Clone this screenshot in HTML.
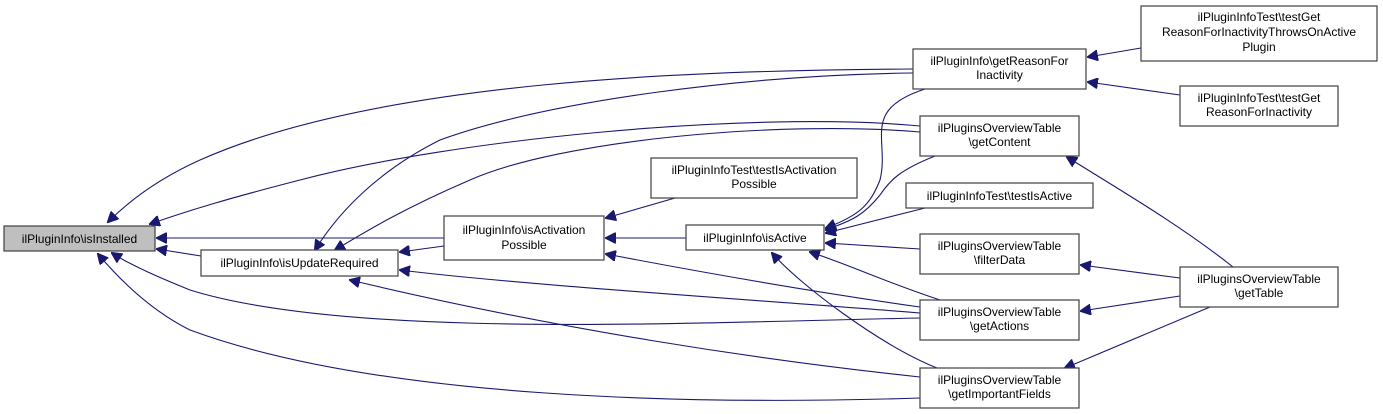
<!DOCTYPE html>
<html><head><meta charset="utf-8"><style>
html,body{margin:0;padding:0;background:#fff;}
svg{display:block;}
text{font-family:"Liberation Sans",Arial,sans-serif;font-size:12px;fill:#000;text-anchor:middle;}
.n{fill:#fff;stroke:#404040;stroke-width:1.2;}
.e{fill:none;stroke:#191970;stroke-width:1.1;}
</style></head><body>
<svg width="1383" height="414" viewBox="0 0 1383 414" xmlns="http://www.w3.org/2000/svg">
<defs><marker id="a" viewBox="0 0 10 10" refX="9" refY="5" markerWidth="11" markerHeight="11" markerUnits="userSpaceOnUse" orient="auto"><path d="M0,0 L10,5 L0,10 z" fill="#191970" stroke="#191970"/></marker></defs>
<g class="e" marker-end="url(#a)">
<path d="M913,69 C700,70 380,80 200,160 C160,178 130,200 108,222"/>
<path d="M920,126 C750,110 450,140 300,180 C230,198 190,210 150,224"/>
<path d="M444,238 L157,238"/>
<path d="M201,256 L157,249"/>
<path d="M920,318 C700,322 350,340 190,290 C160,278 130,265 112,253"/>
<path d="M920,398 C700,405 380,400 190,330 C150,310 120,280 98,254"/>
<path d="M913,73 C750,75 550,100 440,140 C380,170 340,210 315,250"/>
<path d="M920,132 C780,120 560,140 470,180 C400,210 360,235 335,250"/>
<path d="M444,246 L400,252"/>
<path d="M920,313 C760,300 520,285 400,270"/>
<path d="M920,377 C760,360 560,330 350,280"/>
<path d="M675,198 L606,218"/>
<path d="M686,238 L606,238"/>
<path d="M920,307 C800,290 700,272 606,254"/>
<path d="M925,89 C860,110 890,140 880,180 C870,205 860,215 826,228"/>
<path d="M935,156 C900,170 890,180 880,195 C860,220 845,222 826,230"/>
<path d="M925,208 L826,233"/>
<path d="M920,249 L826,243"/>
<path d="M940,300 C880,280 850,265 810,252"/>
<path d="M937,368 C880,345 800,285 772,253"/>
<path d="M1141,48 L1088,57"/>
<path d="M1180,95 L1088,82"/>
<path d="M1233,267 C1180,225 1120,190 1067,157"/>
<path d="M1180,278 L1081,265"/>
<path d="M1180,296 L1081,311"/>
<path d="M1210,307 L1065,368"/>
</g>
<rect class="n" x="4" y="226" width="151" height="25" style="fill:#bfbfbf"/>
<text x="79.5" y="243">ilPluginInfo\isInstalled</text>
<rect class="n" x="201" y="250" width="197" height="26"/>
<text x="299.5" y="267">ilPluginInfo\isUpdateRequired</text>
<rect class="n" x="444" y="216" width="160" height="44"/>
<text x="524" y="234">ilPluginInfo\isActivation</text>
<text x="524" y="249">Possible</text>
<rect class="n" x="651" y="158" width="206" height="40"/>
<text x="754" y="174">ilPluginInfoTest\testIsActivation</text>
<text x="754" y="188">Possible</text>
<rect class="n" x="686" y="225" width="138" height="25"/>
<text x="755" y="242">ilPluginInfo\isActive</text>
<rect class="n" x="913" y="49" width="173" height="40"/>
<text x="999.5" y="65">ilPluginInfo\getReasonFor</text>
<text x="999.5" y="79">Inactivity</text>
<rect class="n" x="920" y="116" width="159" height="40"/>
<text x="999.5" y="132">ilPluginsOverviewTable</text>
<text x="999.5" y="146">\getContent</text>
<rect class="n" x="906" y="183" width="187" height="25"/>
<text x="999.5" y="200">ilPluginInfoTest\testIsActive</text>
<rect class="n" x="920" y="234" width="159" height="40"/>
<text x="999.5" y="250">ilPluginsOverviewTable</text>
<text x="999.5" y="264">\filterData</text>
<rect class="n" x="920" y="300" width="159" height="40"/>
<text x="999.5" y="316">ilPluginsOverviewTable</text>
<text x="999.5" y="330">\getActions</text>
<rect class="n" x="920" y="368" width="159" height="40"/>
<text x="999.5" y="384">ilPluginsOverviewTable</text>
<text x="999.5" y="398">\getImportantFields</text>
<rect class="n" x="1141" y="6" width="236" height="55"/>
<text x="1259" y="21">ilPluginInfoTest\testGet</text>
<text x="1259" y="36">ReasonForInactivityThrowsOnActive</text>
<text x="1259" y="51">Plugin</text>
<rect class="n" x="1180" y="86" width="158" height="40"/>
<text x="1259" y="102">ilPluginInfoTest\testGet</text>
<text x="1259" y="116">ReasonForInactivity</text>
<rect class="n" x="1180" y="267" width="158" height="40"/>
<text x="1259" y="283">ilPluginsOverviewTable</text>
<text x="1259" y="297">\getTable</text>
</svg>
</body></html>
